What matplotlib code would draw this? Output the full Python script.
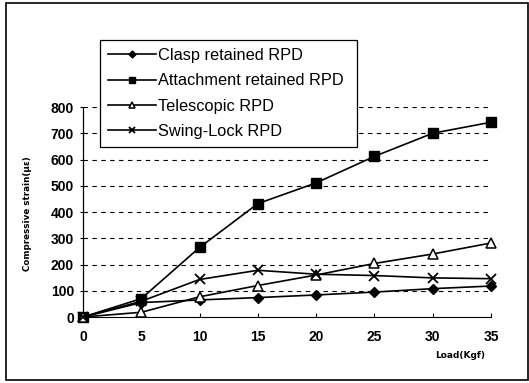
import matplotlib
matplotlib.use("Agg")
import matplotlib.pyplot as plt
from matplotlib.patches import Rectangle

plt.rcParams['font.family'] = ['Liberation Sans', 'DejaVu Sans']

# Load steps (Kgf)
load = [0, 5, 10, 15, 20, 25, 30, 35]

# Compressive strain (micro-strain) for each RPD design
clasp = [0, 55, 65, 74, 84, 95, 108, 118]
attachment = [0, 70, 265, 432, 511, 612, 700, 742]
telescopic = [0, 18, 77, 120, 160, 204, 240, 282]
swing_lock = [0, 60, 143, 178, 163, 158, 149, 146]

series_names = ["Clasp retained RPD", "Attachment retained RPD",
                "Telescopic RPD", "Swing-Lock RPD"]

y_ticks = [0, 100, 200, 300, 400, 500, 600, 700, 800]
x_ticks = load

fig = plt.figure(figsize=(5.29, 3.83), dpi=100)
ax = fig.add_axes([0.1569, 0.1723, 0.7713, 0.5483])

# outer frame around the whole figure
fig.patches.append(Rectangle((6 / 529, 3 / 383), 522 / 529, 377 / 383,
                             transform=fig.transFigure, fill=False,
                             edgecolor='black', linewidth=1.2))

common = dict(color='black', linewidth=1.2, clip_on=False, zorder=3)
ax.plot(load, clasp, marker='D', markersize=5, markerfacecolor='black',
        label=series_names[0], **common)
ax.plot(load, attachment, marker='s', markersize=6.5, markerfacecolor='black',
        label=series_names[1], **common)
ax.plot(load, telescopic, marker='^', markersize=6.5, markerfacecolor='white',
        markeredgewidth=1.1, label=series_names[2], **common)
ax.plot(load, swing_lock, marker='x', markersize=7, markeredgewidth=1.3,
        label=series_names[3], **common)

ax.set_xlim(0, 35)
ax.set_ylim(0, 800)
ax.set_xticks(x_ticks)
ax.set_yticks(y_ticks)

for y in y_ticks[1:]:
    ax.axhline(y, color='black', linewidth=0.8, linestyle=(0, (4, 4)), zorder=1)

for s in ('top', 'right'):
    ax.spines[s].set_visible(False)
ax.spines['left'].set_linewidth(0.9)
ax.spines['bottom'].set_linewidth(0.8)

ax.tick_params(axis='y', direction='out', length=2, width=0.8, pad=4.5,
               labelsize=10)
ax.tick_params(axis='x', direction='in', length=3, width=0.8, pad=9,
               labelsize=10)
for lab in ax.get_xticklabels() + ax.get_yticklabels():
    lab.set_fontweight('bold')

fig.text(28 / 529, 1 - 214 / 383, "Compressive strain(\u03bc\u03b5)",
         rotation=90, ha='center', va='center', fontsize=6.3,
         fontweight='bold', family='DejaVu Sans')
fig.text(460 / 529, 1 - 355 / 383, "Load(Kgf)", ha='center', va='center',
         fontsize=6.5, fontweight='bold', family='DejaVu Sans')

leg = fig.legend(loc='upper left',
                 bbox_to_anchor=(100 / 529, 1 - 144 / 383, 257 / 529, 104 / 383),
                 mode='expand', frameon=True, fancybox=False, fontsize=11.8,
                 handlelength=2.9, handletextpad=0.15, labelspacing=0.62,
                 borderpad=0.5, borderaxespad=0, markerscale=0.7)
leg.get_frame().set_edgecolor('black')
leg.get_frame().set_linewidth(0.9)
leg.get_frame().set_alpha(1)

fig.savefig("out.png", dpi=100)
